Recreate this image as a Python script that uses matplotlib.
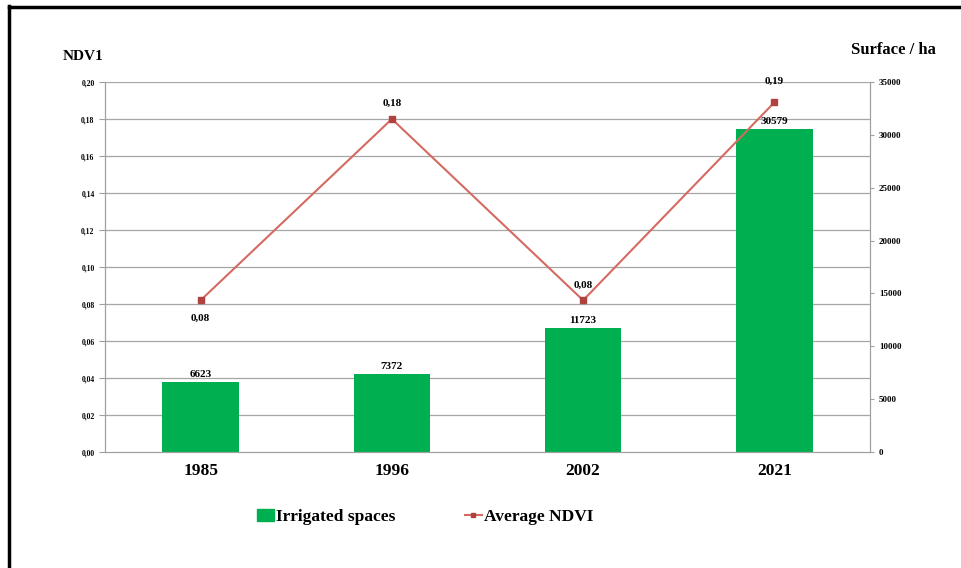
import matplotlib.pyplot as plt
from matplotlib.patches import Patch
from matplotlib.lines import Line2D

# donnees
annees = ['1985', '1996', '2002', '2021']
surface_ha = [6623, 7372, 11723, 30579]
ndvi_moyen = [0.082, 0.18, 0.082, 0.189]

plt.rcParams['font.family'] = ['Liberation Serif', 'DejaVu Serif']
plt.rcParams['font.weight'] = 'bold'

fig = plt.figure(figsize=(9.62, 5.68), dpi=100)
ax = fig.add_axes([105/962, 1-452/568, 765/962, 370/568])
ax2 = ax.twinx()

x = range(len(annees))
ax.set_zorder(1)
ax.patch.set_visible(False)

# barres sur l'axe de droite
ax2.bar(x, surface_ha, width=0.40, color='#00B050', zorder=2)
for i, v in zip(x, surface_ha):
    ax2.text(i, v + 250, str(v), ha='center', va='bottom', fontsize=8, fontweight='bold')
ax2.set_ylim(0, 35000)
ax2.set_yticks(range(0, 35001, 5000))
ax2.tick_params(axis='y', labelsize=6.5, length=3, color='#A0A0A0')

# ligne NDVI sur l'axe de gauche
ax.plot(x, ndvi_moyen, color='#D46A62', lw=1.5, marker='s', markersize=4,
        markerfacecolor='#B0413E', markeredgecolor='#B0413E', zorder=3)
decalages = [-13, 11, 11, 15]
for i, v, d in zip(x, ndvi_moyen, decalages):
    ax.annotate(f'{v:.2f}'.replace('.', ','), (i, v), xytext=(0, d), textcoords='offset points',
                ha='center', va='center', fontsize=8, fontweight='bold')
ax.set_ylim(0, 0.20)
ax.set_yticks([i * 0.02 for i in range(11)])
ax.set_yticklabels([f'{i * 0.02:.2f}'.replace('.', ',') for i in range(11)])
ax.tick_params(axis='y', labelsize=5.5, length=4, color='#A0A0A0')
ax.set_xlim(-0.5, 3.5)
ax.set_xticks(list(x))
ax.set_xticklabels(annees, fontsize=12.5, fontweight='bold')
ax.tick_params(axis='x', length=0, pad=8)

ax2.set_axisbelow(True)
for yv in ax.get_yticks()[1:]:
    ax2.axhline(yv / 0.20 * 35000, color='#A6A6A6', lw=0.9, zorder=0)

for a in (ax, ax2):
    a.spines['top'].set_visible(False)
    a.spines['left'].set_color('#A0A0A0')
    a.spines['right'].set_color('#A0A0A0')
    a.spines['bottom'].set_color('#A0A0A0')

fig.text(83/962, 1-57/568, 'NDV1', ha='center', va='center', fontsize=11, fontweight='bold')
fig.text(893/962, 1-50/568, 'Surface / ha', ha='center', va='center', fontsize=12, fontweight='bold')

handles = [Patch(facecolor='#00B050', edgecolor='#00B050'),
           Line2D([0], [0], color='#D46A62', lw=1.5, marker='s', markersize=3,
                  markerfacecolor='#B0413E', markeredgecolor='#B0413E')]
fig.legend(handles, ['Irrigated spaces', 'Average NDVI'], loc='center', ncol=2,
           bbox_to_anchor=(425/962, 1-517/568), frameon=False, prop={'size': 12.5, 'weight': 'bold'},
           handlelength=1.0, handletextpad=0.1, columnspacing=4.0)

# cadre noir en haut et a gauche
fig.add_artist(Line2D([9/962, 9/962], [0, 1-6/568], color='black', lw=2.5))
fig.add_artist(Line2D([9/962, 1], [1-7/568, 1-7/568], color='black', lw=2.5))

plt.savefig('out.png', dpi=100)
